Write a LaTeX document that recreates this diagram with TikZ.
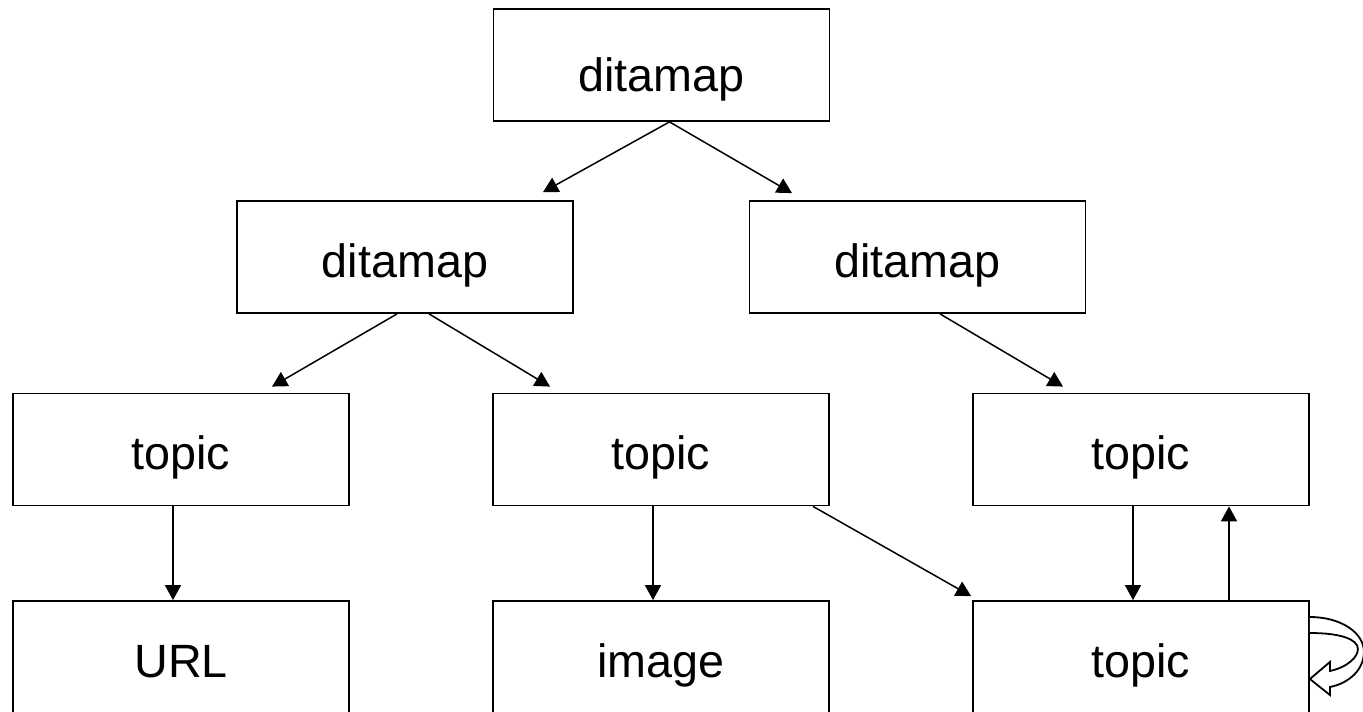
\documentclass[tikz,border=0pt]{standalone}
\usepackage{fontspec}
\setmainfont{Liberation Sans}
\usetikzlibrary{arrows.meta,calc}
\begin{document}
\begin{tikzpicture}[x=0.5pt,y=-0.5pt,
  box/.style={draw=black,line width=0.9pt,fill=white,rectangle,inner sep=0pt,
    minimum width=168pt,minimum height=56pt,text height=20pt,text depth=0pt,
    font=\fontsize{23.35}{28}\selectfont},
  arr/.style={draw=black,line width=0.75pt,-{Triangle[length=7.5pt,width=8pt]}},
  loopshape/.style={draw=black,fill=white,line width=0.9pt,line join=miter}]
\useasboundingbox (0,0) rectangle (1363,711);
\node[box,text height=27pt] (top) at (661.5,65) {ditamap};
\node[box] (d1) at (405,257) {ditamap};
\node[box] (d2) at (917.5,257) {ditamap};
\node[box] (t1) at (181,449.5) {topic};
\node[box] (t2) at (661,449.5) {topic};
\node[box] (t3) at (1141,449.5) {topic};
\node[box] (url) at (181,657) {URL};
\node[box] (img) at (661,657) {image};
\node[box] (t4) at (1141,657) {topic};
% connectors
\draw[arr] ([xshift=4pt]top.south) -- ([xshift=69pt,yshift=4pt]d1.north);
\draw[arr] ([xshift=4pt]top.south) -- ([xshift=-62.75pt,yshift=3.5pt]d2.north);
\draw[arr] ([xshift=-4pt]d1.south) -- ([xshift=45.5pt,yshift=3pt]t1.north);
\draw[arr] ([xshift=12pt]d1.south) -- ([xshift=-55.5pt,yshift=3pt]t2.north);
\draw[arr] ([xshift=11.25pt]d2.south) -- ([xshift=-39pt,yshift=3pt]t3.north);
\draw[arr] ([xshift=-4pt]t1.south) -- ([xshift=-4pt]url.north);
\draw[arr] ([xshift=-4pt]t2.south) -- ([xshift=-4pt]img.north);
\draw[arr] ([xshift=76pt]t2.south) -- ([xshift=-0.5pt,yshift=2pt]t4.north west);
\draw[arr] ([xshift=-4pt]t3.south) -- ([xshift=-4pt]t4.north);
\draw[arr] ([xshift=44pt]t4.north) -- ([xshift=44pt]t3.south);
% self loop block arrow
\coordinate (le) at (t4.east);
\draw[loopshape] ($(le)+(0,-40)$)
  .. controls ($(le)+(30,-40)$) and ($(le)+(54,-25)$) .. ($(le)+(54,-5)$)
  .. controls ($(le)+(54,12)$) and ($(le)+(40,26)$) .. ($(le)+(20,30)$)
  -- ($(le)+(20,38)$) -- ($(le)+(0,22)$) -- ($(le)+(20,5)$) -- ($(le)+(20,14)$)
  .. controls ($(le)+(38,10)$) and ($(le)+(48,0)$) .. ($(le)+(48,-8)$)
  .. controls ($(le)+(48,-18)$) and ($(le)+(30,-24)$) .. ($(le)+(0,-24)$);
\end{tikzpicture}
\end{document}
